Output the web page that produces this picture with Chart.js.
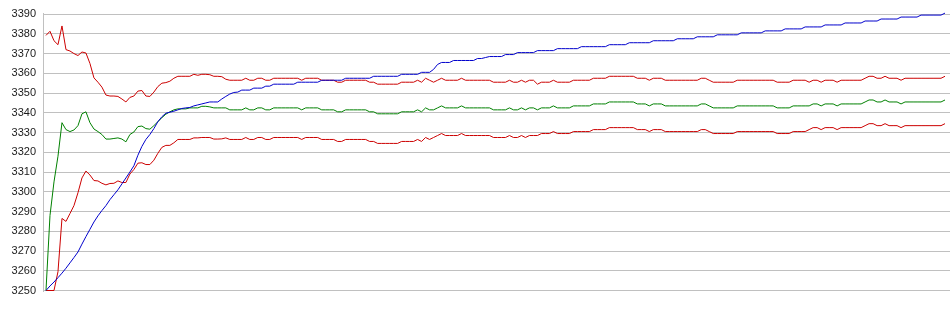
<!DOCTYPE html>
<html lang="en">
<head>
  <meta charset="UTF-8" />
  <title>Convergence chart</title>
  <script src="https://cdn.jsdelivr.net/npm/chart.js"></script>
  <style>
    html, body { margin: 0; padding: 0; background: #fff; }
    #wrap { width: 950px; height: 315px; }
  </style>
</head>
<body>
  <div id="wrap"><canvas id="chart" width="950" height="315"></canvas></div>

  <script>
    // y axis tick labels
    const yTicks = [3250, 3260, 3270, 3280, 3290, 3300, 3310, 3320, 3330, 3340, 3350, 3360, 3370, 3380, 3390];

    // upper red series
    const upperRed = [
      3379.2, 3381.3, 3376.5, 3374.5, 3384, 3372, 3371.3, 3370, 3369, 3370.8,
      3370.3, 3365, 3357.7, 3355.5, 3353, 3349, 3348.5, 3348.5, 3348.3, 3347,
      3345.5, 3347.8, 3348.5, 3351, 3351.3, 3348.5, 3348.3, 3350.5, 3353.3, 3355,
      3355.3, 3356, 3357.5, 3358.5, 3358.5, 3358.5, 3358.5, 3359.5, 3359, 3359.5,
      3359.5, 3359.3, 3358.5, 3358.5, 3358.3, 3357, 3356.5, 3356.5, 3356.5, 3356.5,
      3357.5, 3356.5, 3356.5, 3357.5, 3357.5, 3356.5, 3356.5, 3357.5, 3357.5, 3357.5,
      3357.5, 3357.5, 3357.5, 3357.5, 3356.5, 3357.5, 3357.5, 3357.5, 3357.5, 3356.5,
      3356.5, 3356.5, 3356.5, 3355.5, 3355.5, 3356.5, 3356.5, 3356.5, 3356.5, 3356.5,
      3356.5, 3355.5, 3355.5, 3354.5, 3354.5, 3354.5, 3354.5, 3354.5, 3354.5, 3355.5,
      3355.5, 3355.5, 3355.5, 3356.5, 3355.5, 3357.5, 3356.5, 3355.5, 3356.5, 3357.5,
      3356.5, 3356.5, 3356.5, 3356.5, 3357.5, 3356.5, 3356.5, 3356.5, 3356.5, 3356.5,
      3356.5, 3356.5, 3355.5, 3355.5, 3355.5, 3355.5, 3356.5, 3355.5, 3355.5, 3356.5,
      3355.5, 3356.5, 3356.5, 3354.5, 3355.5, 3355.5, 3355.5, 3356.5, 3355.5, 3355.5,
      3355.5, 3355.5, 3356.5, 3356.5, 3356.5, 3356.5, 3356.5, 3357.5, 3357.5, 3357.5,
      3357.5, 3358.5, 3358.5, 3358.5, 3358.5, 3358.5, 3358.5, 3358.5, 3357.5, 3357.5,
      3357.5, 3356.5, 3357.5, 3357.5, 3357.5, 3356.5, 3356.5, 3356.5, 3356.5, 3356.5,
      3356.5, 3356.5, 3356.5, 3356.5, 3357.5, 3357.5, 3356.5, 3355.5, 3355.5, 3355.5,
      3355.5, 3355.5, 3355.5, 3356.5, 3356.5, 3356.5, 3356.5, 3356.5, 3356.5, 3356.5,
      3356.5, 3356.5, 3356.5, 3355.5, 3355.5, 3355.5, 3355.5, 3356.5, 3356.5, 3356.5,
      3356.5, 3355.5, 3356.5, 3356.5, 3355.5, 3356.5, 3356.5, 3356.5, 3355.5, 3356.5,
      3356.5, 3356.5, 3356.5, 3356.5, 3356.5, 3357.5, 3358.5, 3358.5, 3357.5, 3357.5,
      3358.5, 3357.5, 3357.5, 3357.5, 3356.5, 3357.5, 3357.5, 3357.5, 3357.5, 3357.5,
      3357.5, 3357.5, 3357.5, 3357.5, 3357.5, 3358.5
    ];

    // middle green series
    const midGreen = [
      3250, 3288, 3305, 3318, 3335, 3331.5, 3330.5, 3331.3, 3333.5, 3339.5,
      3340.5, 3335, 3331.8, 3330.5, 3329, 3326.7, 3326.7, 3327, 3327.3, 3326.7,
      3325.3, 3329, 3330.3, 3333, 3333.3, 3332, 3331.7, 3333.5, 3335.5, 3337.5,
      3339.3, 3340.5, 3341.5, 3342, 3342, 3342, 3342.5, 3342.5, 3342.5, 3343.3,
      3343.3, 3343, 3342.5, 3342.5, 3342.5, 3342.5, 3341.5, 3341.5, 3341.5, 3341.5,
      3342.5, 3341.5, 3341.5, 3342.5, 3342.5, 3341.5, 3341.5, 3342.5, 3342.5, 3342.5,
      3342.5, 3342.5, 3342.5, 3342.5, 3341.5, 3342.5, 3342.5, 3342.5, 3342.5, 3341.5,
      3341.5, 3341.5, 3341.5, 3340.5, 3340.5, 3341.5, 3341.5, 3341.5, 3341.5, 3341.5,
      3341.5, 3340.5, 3340.5, 3339.5, 3339.5, 3339.5, 3339.5, 3339.5, 3339.5, 3340.5,
      3340.5, 3340.5, 3340.5, 3341.5, 3340.5, 3342.5, 3341.5, 3341.5, 3342.5, 3343.5,
      3342.5, 3342.5, 3342.5, 3342.5, 3343.5, 3342.5, 3342.5, 3342.5, 3342.5, 3342.5,
      3342.5, 3342.5, 3341.5, 3341.5, 3341.5, 3341.5, 3342.5, 3341.5, 3341.5, 3342.5,
      3341.5, 3342.5, 3342.5, 3341.5, 3342.5, 3342.5, 3342.5, 3343.5, 3342.5, 3342.5,
      3342.5, 3342.5, 3343.5, 3343.5, 3343.5, 3343.5, 3343.5, 3344.5, 3344.5, 3344.5,
      3344.5, 3345.5, 3345.5, 3345.5, 3345.5, 3345.5, 3345.5, 3345.5, 3344.5, 3344.5,
      3344.5, 3343.5, 3344.5, 3344.5, 3344.5, 3343.5, 3343.5, 3343.5, 3343.5, 3343.5,
      3343.5, 3343.5, 3343.5, 3343.5, 3344.5, 3344.5, 3343.5, 3342.5, 3342.5, 3342.5,
      3342.5, 3342.5, 3342.5, 3343.5, 3343.5, 3343.5, 3343.5, 3343.5, 3343.5, 3343.5,
      3343.5, 3343.5, 3343.5, 3342.5, 3342.5, 3342.5, 3342.5, 3343.5, 3343.5, 3343.5,
      3343.5, 3343.5, 3344.5, 3344.5, 3343.5, 3344.5, 3344.5, 3344.5, 3343.5, 3344.5,
      3344.5, 3344.5, 3344.5, 3344.5, 3344.5, 3345.5, 3346.5, 3346.5, 3345.5, 3345.5,
      3346.5, 3345.5, 3345.5, 3345.5, 3344.5, 3345.5, 3345.5, 3345.5, 3345.5, 3345.5,
      3345.5, 3345.5, 3345.5, 3345.5, 3345.5, 3346.5
    ];

    // lower red series
    const lowerRed = [
      3250, 3250, 3250, 3259.5, 3286.5, 3285, 3289, 3293, 3299.5, 3307,
      3310.5, 3308.5, 3305.7, 3305.5, 3304.3, 3303.5, 3304.2, 3304.3, 3305.5, 3304.7,
      3304.7, 3309, 3311.3, 3314.5, 3314.7, 3313.8, 3313.8, 3316, 3319.5, 3322.5,
      3323.5, 3323.5, 3324.8, 3326.5, 3326.5, 3326.5, 3326.5, 3327.3, 3327.3, 3327.5,
      3327.5, 3327.5, 3326.7, 3326.7, 3326.8, 3327.3, 3326.5, 3326.5, 3326.5, 3326.5,
      3327.5, 3326.5, 3326.5, 3327.5, 3327.5, 3326.5, 3326.5, 3327.5, 3327.5, 3327.5,
      3327.5, 3327.5, 3327.5, 3327.5, 3326.5, 3327.5, 3327.5, 3327.5, 3327.5, 3326.5,
      3326.5, 3326.5, 3326.5, 3325.5, 3325.5, 3326.5, 3326.5, 3326.5, 3326.5, 3326.5,
      3326.5, 3325.5, 3325.5, 3324.5, 3324.5, 3324.5, 3324.5, 3324.5, 3324.5, 3325.5,
      3325.5, 3325.5, 3325.5, 3326.5, 3325.5, 3327.5, 3326.5, 3327.5, 3328.5, 3329.5,
      3328.5, 3328.5, 3328.5, 3328.5, 3329.5, 3328.5, 3328.5, 3328.5, 3328.5, 3328.5,
      3328.5, 3328.5, 3327.5, 3327.5, 3327.5, 3327.5, 3328.5, 3327.5, 3327.5, 3328.5,
      3327.5, 3328.5, 3328.5, 3328.5, 3329.5, 3329.5, 3329.5, 3330.5, 3329.5, 3329.5,
      3329.5, 3329.5, 3330.5, 3330.5, 3330.5, 3330.5, 3330.5, 3331.5, 3331.5, 3331.5,
      3331.5, 3332.5, 3332.5, 3332.5, 3332.5, 3332.5, 3332.5, 3332.5, 3331.5, 3331.5,
      3331.5, 3330.5, 3331.5, 3331.5, 3331.5, 3330.5, 3330.5, 3330.5, 3330.5, 3330.5,
      3330.5, 3330.5, 3330.5, 3330.5, 3331.5, 3331.5, 3330.5, 3329.5, 3329.5, 3329.5,
      3329.5, 3329.5, 3329.5, 3330.5, 3330.5, 3330.5, 3330.5, 3330.5, 3330.5, 3330.5,
      3330.5, 3330.5, 3330.5, 3329.5, 3329.5, 3329.5, 3329.5, 3330.5, 3330.5, 3330.5,
      3330.5, 3331.5, 3332.5, 3332.5, 3331.5, 3332.5, 3332.5, 3332.5, 3331.5, 3332.5,
      3332.5, 3332.5, 3332.5, 3332.5, 3332.5, 3333.5, 3334.5, 3334.5, 3333.5, 3333.5,
      3334.5, 3333.5, 3333.5, 3333.5, 3332.5, 3333.5, 3333.5, 3333.5, 3333.5, 3333.5,
      3333.5, 3333.5, 3333.5, 3333.5, 3333.5, 3334.5
    ];

    // blue series
    const blueLine = [
      3250, 3252.3, 3254.3, 3256.5, 3258.8, 3261.3, 3264, 3266.7, 3269.5, 3273.5,
      3277.3, 3281, 3284.7, 3287.8, 3290.5, 3293, 3296, 3298.5, 3301, 3304,
      3307, 3310, 3313.2, 3318.5, 3323, 3326.5, 3329, 3332, 3335.5, 3338,
      3339.8, 3340.3, 3340.8, 3341.5, 3342.2, 3342.5, 3342.7, 3343.5, 3344, 3344.5,
      3345, 3345.5, 3345.5, 3345.5, 3347, 3348.3, 3349.5, 3350.3, 3350.5, 3351.5,
      3351.5, 3351.5, 3352.5, 3352.5, 3352.5, 3353.5, 3353.5, 3354.5, 3354.5, 3354.5,
      3354.5, 3354.5, 3354.5, 3355.5, 3355.5, 3355.5, 3355.5, 3355.5, 3355.5, 3356.5,
      3356.5, 3356.5, 3356.5, 3356.5, 3356.5, 3357.5, 3357.5, 3357.5, 3357.5, 3357.5,
      3357.5, 3357.5, 3358.5, 3358.5, 3358.5, 3358.5, 3358.5, 3358.5, 3358.5, 3359.5,
      3359.5, 3359.5, 3359.5, 3359.5, 3360.5, 3360.5, 3360.5, 3362, 3364.5, 3365.5,
      3365.5, 3365.5, 3366.5, 3366.5, 3366.5, 3366.5, 3366.5, 3366.5, 3367.5, 3367.5,
      3368, 3368.5, 3368.5, 3368.5, 3368.5, 3369.5, 3369.5, 3369.5, 3370.5, 3370.5,
      3370.5, 3370.5, 3370.5, 3371.5, 3371.5, 3371.5, 3371.5, 3371.5, 3372.5, 3372.5,
      3372.5, 3372.5, 3372.5, 3372.5, 3373.5, 3373.5, 3373.5, 3373.5, 3373.5, 3373.5,
      3373.5, 3374.5, 3374.5, 3374.5, 3374.5, 3374.5, 3375.5, 3375.5, 3375.5, 3375.5,
      3375.5, 3375.5, 3376.5, 3376.5, 3376.5, 3376.5, 3376.5, 3376.5, 3377.5, 3377.5,
      3377.5, 3377.5, 3377.5, 3378.5, 3378.5, 3378.5, 3378.5, 3378.5, 3379.5, 3379.5,
      3379.5, 3379.5, 3379.5, 3379.5, 3380.5, 3380.5, 3380.5, 3380.5, 3380.5, 3380.5,
      3381.5, 3381.5, 3381.5, 3381.5, 3381.5, 3382.5, 3382.5, 3382.5, 3382.5, 3382.5,
      3383.5, 3383.5, 3383.5, 3383.5, 3383.5, 3384.5, 3384.5, 3384.5, 3384.5, 3384.5,
      3385.5, 3385.5, 3385.5, 3385.5, 3385.5, 3386.5, 3386.5, 3386.5, 3386.5, 3387.5,
      3387.5, 3387.5, 3387.5, 3387.5, 3388.5, 3388.5, 3388.5, 3388.5, 3388.5, 3389.5,
      3389.5, 3389.5, 3389.5, 3389.5, 3389.5, 3390.5
    ];

    // sample index along the x axis
    const steps = upperRed.map((_, i) => i);

    const line = (data, color) => ({
      data: data,
      borderColor: color,
      borderWidth: 1,
      pointRadius: 0,
      tension: 0,
      fill: false,
      clip: false
    });

    new Chart(document.getElementById("chart"), {
      type: "line",
      data: {
        labels: steps,
        datasets: [
          line(blueLine, "#0000cc"),
          line(upperRed, "#cc0000"),
          line(midGreen, "#008000"),
          line(lowerRed, "#cc0000")
        ]
      },
      options: {
        responsive: false,
        animation: false,
        layout: { padding: { top: 10, right: 0, bottom: 24, left: 0 } },
        plugins: {
          legend: { display: false },
          tooltip: { enabled: false }
        },
        scales: {
          x: {
            type: "linear",
            display: false,
            min: -0.75,
            max: steps.length - 1 + 1.25
          },
          y: {
            min: 3249.75,
            max: 3390.25,
            afterBuildTicks: (scale) => { scale.ticks = yTicks.map(v => ({ value: v })); },
            afterFit: (scale) => { scale.width = 43; },
            border: { display: true, color: "#c0c0c0", width: 1 },
            grid: { color: "#c0c0c0", lineWidth: 1, drawTicks: false },
            ticks: {
              padding: 7,
              color: "#1a1a1a",
              font: { family: "'Liberation Sans', Arial, sans-serif", size: 11 },
              callback: (value) => String(value)
            }
          }
        }
      }
    });
  </script>
</body>
</html>
